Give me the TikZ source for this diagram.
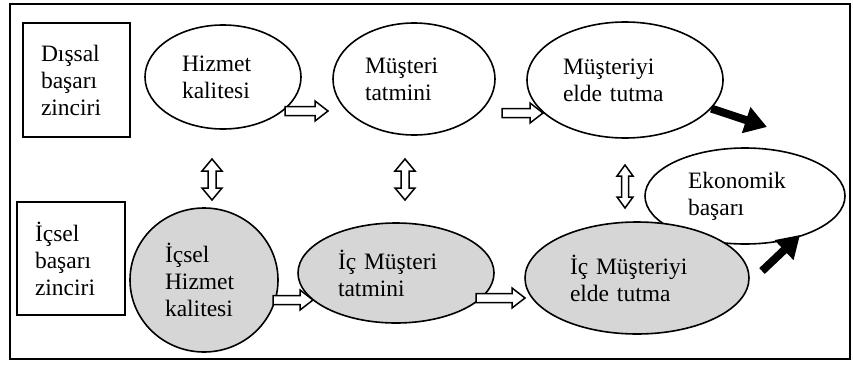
\documentclass[tikz,border=0pt]{standalone}
\usepackage{fontspec}
\setmainfont{Liberation Serif}
\usetikzlibrary{shapes.geometric,arrows.meta}
\newcommand\hollowH[3]{% x0, x1, y
  \draw[hollowarrow] (#1,{#3-4.5}) -- ({#2-13},{#3-4.5}) -- ({#2-13},{#3-10}) -- (#2,#3)
    -- ({#2-13},{#3+10}) -- ({#2-13},{#3+4.5}) -- (#1,{#3+4.5}) -- cycle;}
\newcommand\hollowV[6]{% x, ytop, ybottom, shaft half, head half, head length
  \draw[hollowarrow] (#1,#2) -- ({#1+#5},{#2+#6}) -- ({#1+#4},{#2+#6}) -- ({#1+#4},{#3-#6})
    -- ({#1+#5},{#3-#6}) -- (#1,#3) -- ({#1-#5},{#3-#6}) -- ({#1-#4},{#3-#6})
    -- ({#1-#4},{#2+#6}) -- ({#1-#5},{#2+#6}) -- cycle;}
\begin{document}
\begin{tikzpicture}[x=1pt,y=-1pt,
  font=\fontsize{23.5}{27}\selectfont,
  oval/.style={ellipse, draw, line width=1.6pt, inner sep=0pt, align=left},
  shaded/.style={oval, fill=black!16},
  chainbox/.style={rectangle, draw, line width=1.4pt, inner xsep=18pt, align=left},
  hollowarrow/.style={draw, fill=white, line width=1.5pt, line join=miter},
  blackarrow/.style={line width=8pt, -{Triangle[length=22pt,width=26pt]}}]
\useasboundingbox (0,0) rectangle (853,372);
\draw[line width=1.2pt] (10,4) rectangle (850,359);

% left boxes
\node[chainbox, minimum width=107, minimum height=114, text width=71] (dis) at (76.5,80) {Dışsal\\başarı\\zinciri};
\node[chainbox, minimum width=108, minimum height=113, text width=72] (ic) at (71,258.5) {İçsel\\başarı\\zinciri};

% external chain
\node[oval, minimum width=156, minimum height=104, text width=82] (hk) at (223,77) {Hizmet\\kalitesi};
\node[oval, minimum width=162, minimum height=112, text width=98] (mt) at (414,79) {Müşteri\\tatmini};
\node[oval, minimum width=196, minimum height=116, text width=124] (me) at (625,80) {Müşteriyi\\elde tutma};
\node[oval, minimum width=200, minimum height=96, text width=114] (eb) at (745,196) {Ekonomik\\başarı};

% internal chain
\node[shaded, minimum width=148, minimum height=144, text width=78] (ihk) at (204,280) {İçsel\\Hizmet\\kalitesi};
\node[shaded, minimum width=196, minimum height=100, text width=116] (imt) at (396,273) {İç Müşteri\\tatmini};
\node[shaded, minimum width=224, minimum height=112, text width=134] (ime) at (637,278) {İç Müşteriyi\\elde tutma};

% hollow arrows
\hollowH{285}{328}{111}
\hollowH{502}{543}{113}
\hollowH{273}{313}{300}
\hollowH{476}{525}{298}
\hollowV{212}{159}{200}{4}{10}{12}
\hollowV{405}{159}{200}{4}{10}{12}
\hollowV{625}{165}{208}{3.5}{8}{11}

% black arrows
\coordinate (t1) at (767,127);
\coordinate (s2) at (762,271);
\coordinate (t2) at (800,235);
\draw[blackarrow] (me) -- (t1);
\draw[blackarrow] (s2) -- (t2);
\end{tikzpicture}
\end{document}
